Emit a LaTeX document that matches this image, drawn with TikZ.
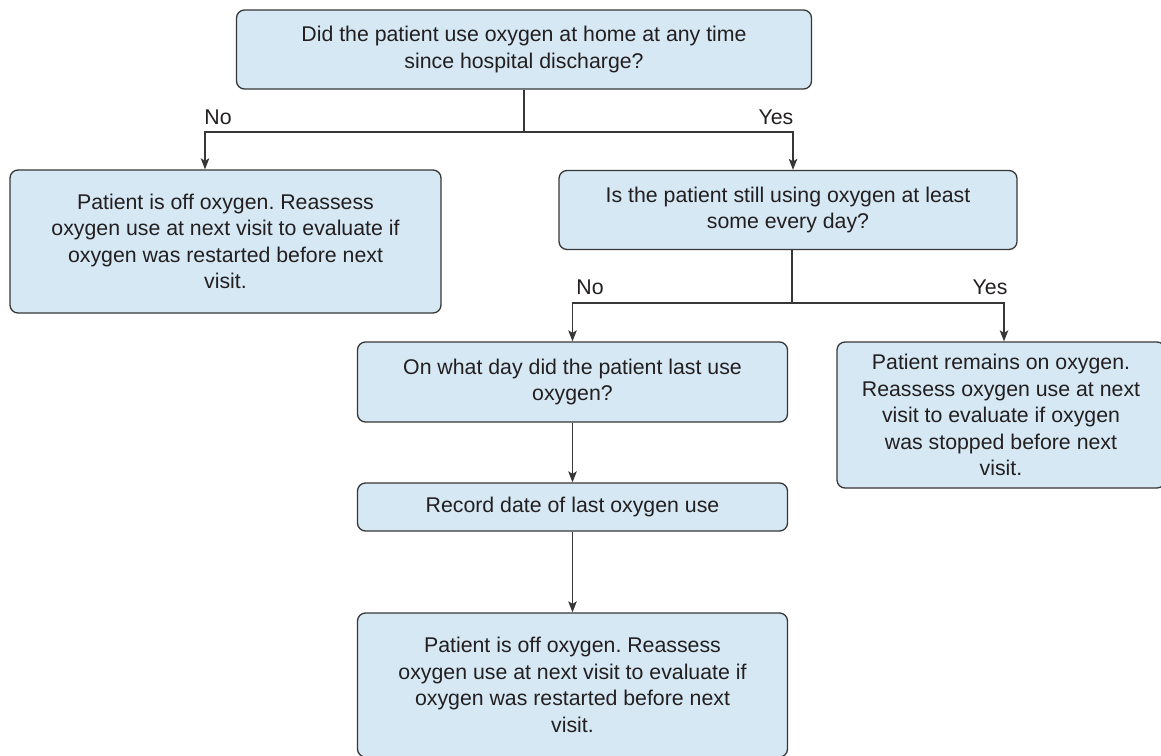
\documentclass[tikz,border=0pt]{standalone}
\usepackage{fontspec}
\setmainfont{Liberation Sans}
\usetikzlibrary{arrows.meta}
\definecolor{boxfill}{RGB}{213,232,244}
\definecolor{boxline}{RGB}{55,55,55}
\definecolor{txt}{RGB}{35,31,32}
\frenchspacing
\tikzset{
  flowbox/.style={draw=boxline, fill=boxfill, line width=1.3pt, rounded corners=8pt,
    align=center, inner sep=0pt, text=txt,
    font=\fontsize{21.3}{26.5}\selectfont},
  lbl/.style={text=txt, font=\fontsize{21.3}{26.5}\selectfont, inner sep=0pt},
  conn/.style={draw=boxline, line width=1.3pt},
  arr/.style={conn, -{Stealth[length=11pt,width=8.5pt,inset=2.5pt]}}
}
\begin{document}
\begin{tikzpicture}[x=1pt,y=-1pt]
\useasboundingbox (0,0) rectangle (1161,755);
\clip (0,0) rectangle (1161,755);
\node[flowbox, minimum width=575pt, minimum height=79pt] (top) at (524,49.5)
  {Did the patient use oxygen at home at any time\\since hospital discharge?};
\node[flowbox, minimum width=431pt, minimum height=143pt] (left) at (225.5,241.5)
  {Patient is off oxygen. Reassess\\oxygen use at next visit to evaluate if\\oxygen was restarted before next\\visit.};
\node[flowbox, minimum width=458pt, minimum height=79pt] (q2) at (788,210)
  {Is the patient still using oxygen at least\\some every day?};
\node[flowbox, minimum width=430pt, minimum height=80pt] (q3) at (572.5,382)
  {On what day did the patient last use\\oxygen?};
\node[flowbox, minimum width=328pt, minimum height=146pt] (rem) at (1001,415)
  {Patient remains on oxygen.\\Reassess oxygen use at next\\visit to evaluate if oxygen\\was stopped before next\\visit.};
\node[flowbox, minimum width=430pt, minimum height=48pt] (rec) at (572.5,507)
  {Record date of last oxygen use};
\node[flowbox, minimum width=430pt, minimum height=144pt] (bot) at (572.5,685)
  {Patient is off oxygen. Reassess\\oxygen use at next visit to evaluate if\\oxygen was restarted before next\\visit.};

\coordinate (j1) at (524,132);
\coordinate (j2) at (792,303);
\draw[conn] (top.south) -- (j1);
\draw[arr] (j1) -| ([xshift=-20.5pt]left.north);
\draw[arr] (j1) -| ([xshift=5pt]q2.north);
\draw[conn] ([xshift=4pt]q2.south) -- (j2);
\draw[arr] (j2) -| (q3.north);
\draw[arr] (j2) -| ([xshift=3pt]rem.north);
\draw[arr] (q3.south) -- (rec.north);
\draw[arr] (rec.south) -- (bot.north);

\node[lbl] (no1) at (218,117) {No};
\node[lbl] (yes1) at (776,117) {Yes};
\node[lbl] (no2) at (590,287) {No};
\node[lbl] (yes2) at (990,287) {Yes};
\end{tikzpicture}
\end{document}
